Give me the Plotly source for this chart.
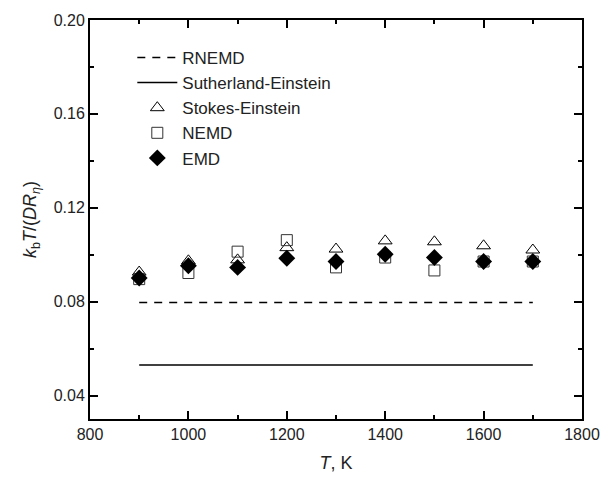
import plotly.graph_objects as go

T = [900, 1000, 1100, 1200, 1300, 1400, 1500, 1600, 1700]
stokes = [0.0926, 0.0974, 0.0978, 0.1030, 0.1024, 0.1059, 0.1055, 0.1038, 0.1020]
nemd = [0.0896, 0.0922, 0.1013, 0.1062, 0.0946, 0.0988, 0.0933, 0.0971, 0.0971]
emd = [0.0901, 0.0953, 0.0946, 0.0985, 0.0971, 0.1002, 0.0988, 0.0971, 0.0971]
line_T = [900, 1700]
rnemd = [0.0796, 0.0796]
sutherland = [0.053, 0.053]

FONT = "Liberation Sans, Arial"

fig = go.Figure()
fig.add_trace(go.Scatter(x=line_T, y=rnemd, mode="lines", name="RNEMD",
                         line=dict(color="black", width=1.5, dash="8px,7px")))
fig.add_trace(go.Scatter(x=line_T, y=sutherland, mode="lines", name="Sutherland-Einstein",
                         line=dict(color="black", width=1.5)))
fig.add_trace(go.Scatter(x=T, y=stokes, mode="markers", name="Stokes-Einstein",
                         marker=dict(symbol="triangle-up-open", size=12, color="black",
                                     line=dict(width=1))))
fig.add_trace(go.Scatter(x=T, y=nemd, mode="markers", name="NEMD",
                         marker=dict(symbol="square-open", size=11, color="#333",
                                     line=dict(width=1))))
fig.add_trace(go.Scatter(x=T, y=emd, mode="markers", name="EMD",
                         marker=dict(symbol="diamond", size=13, color="black")))

axis_common = dict(showline=True, linecolor="black", linewidth=2, mirror="allticks",
                   ticks="inside", ticklen=8, tickwidth=2, tickcolor="black",
                   showgrid=False, zeroline=False,
                   tickfont=dict(family=FONT, size=16, color="#222"))

fig.update_xaxes(range=[800, 1800], tick0=800, dtick=200,
                 minor=dict(ticks="inside", ticklen=4, tickwidth=2, tickcolor="black", dtick=100),
                 title=dict(text="<i>T</i>, K", font=dict(family=FONT, size=18, color="#222"),
                            standoff=14),
                 **axis_common)
fig.update_yaxes(range=[0.03, 0.20], tick0=0.04, dtick=0.04, tickformat=".2f",
                 minor=dict(ticks="inside", ticklen=4, tickwidth=2, tickcolor="black", dtick=0.02, tick0=0.02),
                 title=dict(text="<i>k</i><sub>b</sub><i>T</i>/(<i>DR</i><sub><i>η</i></sub>)",
                            font=dict(family=FONT, size=18, color="#222"),
                            standoff=12),
                 **axis_common)

fig.update_layout(width=612, height=482, margin=dict(l=90, r=23, t=15, b=61),
                  paper_bgcolor="white", plot_bgcolor="white",
                  showlegend=True,
                  legend=dict(x=0.086, y=0.95, xanchor="left", yanchor="top",
                              bgcolor="rgba(0,0,0,0)", tracegroupgap=0,
                              font=dict(family=FONT, size=17, color="#222"),
                              itemwidth=40))

fig.write_html("out.html")
